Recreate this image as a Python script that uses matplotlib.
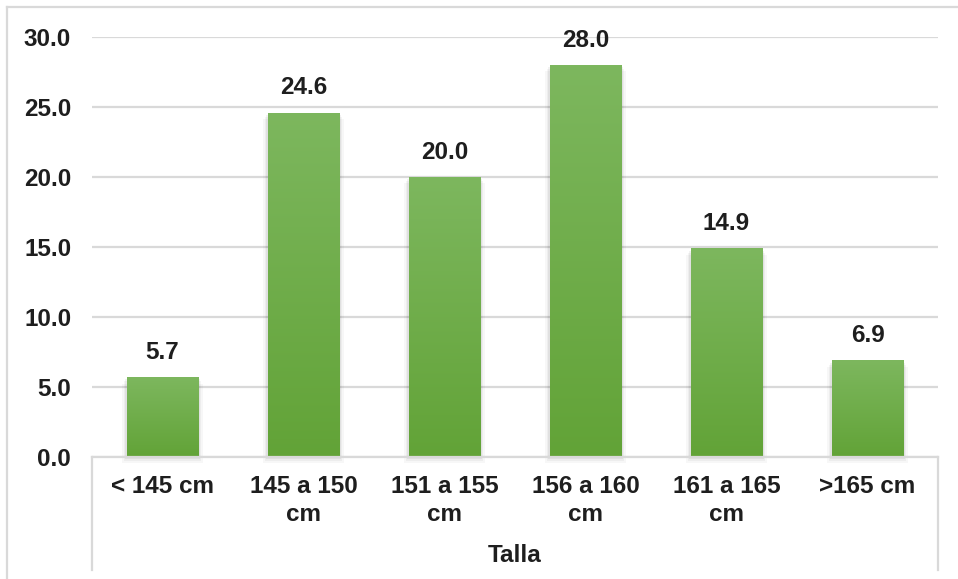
import numpy as np
import matplotlib.pyplot as plt
from matplotlib.colors import LinearSegmentedColormap
from matplotlib.lines import Line2D
from matplotlib.patches import Rectangle

categories = ["< 145 cm", "145 a 150\ncm", "151 a 155\ncm", "156 a 160\ncm",
              "161 a 165\ncm", ">165 cm"]
values = [5.7, 24.6, 20.0, 28.0, 14.9, 6.9]
yticks = [0, 5, 10, 15, 20, 25, 30]
group_label = "Talla"

plt.rcParams['font.family'] = ['Liberation Sans', 'DejaVu Sans']
plt.rcParams['font.weight'] = 'bold'
TXT = '#1e1e1e'
GRID = '#d9d9d9'
FS = 17.5

W, H = 958, 579
fig = plt.figure(figsize=(W / 100, H / 100), dpi=100)

# axes box in pixels: x 92..938, y 37..457
left, right, top, bottom = 92, 938, 37, 457
ax = fig.add_axes([left / W, 1 - bottom / H, (right - left) / W, (bottom - top) / H])

x = np.arange(len(categories))

green = LinearSegmentedColormap.from_list('g', ['#62a337', '#7db75e'])
grad = np.linspace(0, 1, 256).reshape(-1, 1)

bars = ax.bar(x, values, width=0.51, color='none', zorder=3)
for b in bars:
    x0, w, h = b.get_x(), b.get_width(), b.get_height()
    # soft shadow, mostly on the sides and below
    for k, a in enumerate([0.03, 0.04, 0.05]):
        d = 0.01 * (3 - k)
        ax.add_patch(Rectangle((x0 - d, -0.15 * (3 - k)), w + 2 * d, h,
                               facecolor='black', edgecolor='none',
                               alpha=a, zorder=2, clip_on=False))
    im = ax.imshow(grad, cmap=green, aspect='auto', origin='lower',
                   extent=(x0, x0 + w, 0, h), zorder=3)
    im.set_clip_path(b)
    ax.text(x0 + w / 2, h + 0.95, f"{h:.1f}", ha='center', va='bottom',
            fontsize=FS, fontweight='bold', color=TXT, zorder=4)

ax.set_xlim(-0.5, len(categories) - 0.5)
ax.set_ylim(0, 30)

ax.set_yticks(yticks)
ax.set_yticklabels([f"{v:.1f}" for v in yticks], fontsize=FS, fontweight='bold', color=TXT)
ax.set_xticks(x)
ax.set_xticklabels(categories, fontsize=FS, fontweight='bold', color=TXT,
                   linespacing=1.25)
ax.tick_params(axis='both', length=0)
ax.tick_params(axis='y', pad=15)
ax.tick_params(axis='x', pad=13)

ax.grid(axis='y', color=GRID, linewidth=1.6, zorder=0)
ax.set_axisbelow(True)
for s in ['top', 'right', 'left']:
    ax.spines[s].set_visible(False)
ax.spines['bottom'].set_color(GRID)
ax.spines['bottom'].set_linewidth(1.6)
ax.spines['bottom'].set_zorder(5)

# group box below categories
ybox = -(570 - bottom) / (bottom - top)
for xx in (0, 1):
    ax.add_line(Line2D([xx, xx], [0, ybox], transform=ax.transAxes,
                       color=GRID, linewidth=1.6, clip_on=False))
ax.text(0.5, -(556 - bottom) / (bottom - top), group_label, transform=ax.transAxes,
        ha='center', va='center', fontsize=FS, fontweight='bold', color=TXT)

# chart outer border (top and left visible)
fig.add_artist(Line2D([7 / W, 1], [1 - 7 / H, 1 - 7 / H], color=GRID, linewidth=1.6))
fig.add_artist(Line2D([7 / W, 7 / W], [0, 1 - 7 / H], color=GRID, linewidth=1.6))

fig.savefig('out.png', dpi=100)
